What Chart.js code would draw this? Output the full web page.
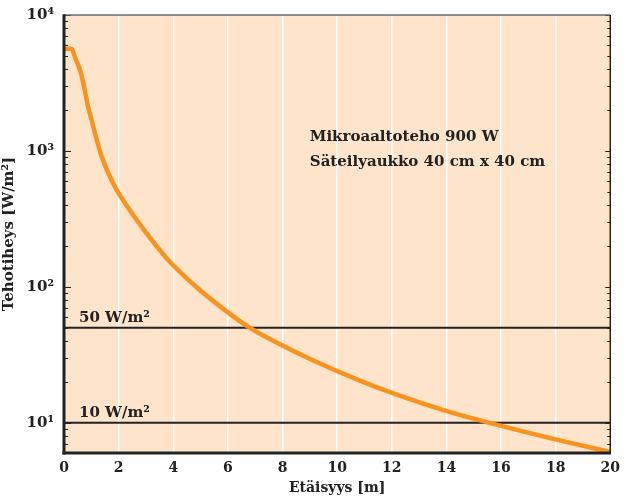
<!DOCTYPE html>
<html>
<head>
<meta charset="utf-8">
<script src="https://cdn.jsdelivr.net/npm/chart.js@4"></script>
<style>
  html, body { margin: 0; padding: 0; background: #ffffff; }
  #wrap { width: 627px; height: 497px; position: relative; }
</style>
</head>
<body>
<div id="wrap"><canvas id="c" width="627" height="497"></canvas></div>
<script>
// Distance from antenna (m) and power density (W/m²)
const distance = [0, 0.28, 0.42, 0.61, 0.75, 0.87, 1.03, 1.19, 1.37, 1.61, 1.91, 2.30, 2.82, 3.79, 4.88, 6, 6.81, 8, 9.05, 10.74, 12.08, 14.07, 15.58, 18.07, 20];
const powerDensity = [5650, 5650, 4780, 3810, 2870, 2157, 1629, 1227, 923, 697, 525, 395, 281, 160, 98.6, 65, 50, 37, 29.2, 20.8, 16.4, 12.1, 10, 7.5, 6.1];

// Limit lines
const limitValues = [50, 10];
const limitLabels = ['50 W/m²', '10 W/m²'];

// Annotation text
const infoLines = ['Mikroaaltoteho 900 W', 'Säteilyaukko 40 cm x 40 cm'];

// Axis settings
const xTicks = [0, 2, 4, 6, 8, 10, 12, 14, 16, 18, 20];
const yMin = 6, yMax = 10000;
const yTickValues = [6, 7, 8, 9, 10, 20, 30, 40, 50, 60, 70, 80, 90, 100, 200, 300, 400, 500, 600, 700, 800, 900, 1000, 2000, 3000, 4000, 5000, 6000, 7000, 8000, 9000, 10000];
const supers = {1: '¹', 2: '²', 3: '³', 4: '⁴'};

const FONT = "'DejaVu Serif', serif";
const INK = '#222222';

const isPow10 = v => Math.abs(Math.log10(v) - Math.round(Math.log10(v))) < 1e-9;

const bgPlugin = {
  id: 'bg',
  beforeDraw(chart) {
    const {ctx, chartArea: a} = chart;
    ctx.save();
    ctx.fillStyle = '#FDE4CB';
    ctx.fillRect(a.left, a.top, a.right - a.left, a.bottom - a.top);
    ctx.restore();
  },
  afterDraw(chart) {
    const {ctx, chartArea: a, scales} = chart;
    const y = scales.y, x = scales.x;
    ctx.save();
    // tick marks inside
    ctx.strokeStyle = INK;
    ctx.lineWidth = 1.2;
    yTickValues.forEach(v => {
      const py = Math.round(y.getPixelForValue(v)) + 0.5;
      const major = isPow10(v);
      const len = major ? 7 : 4;
      ctx.beginPath();
      ctx.moveTo(a.left, py); ctx.lineTo(a.left + len, py);
      ctx.moveTo(a.right, py); ctx.lineTo(a.right - (major ? 5 : 3), py);
      ctx.stroke();
    });
    // borders
    ctx.strokeStyle = '#6b6b6b';
    ctx.lineWidth = 1.5;
    ctx.beginPath(); ctx.moveTo(a.left, a.top); ctx.lineTo(a.right, a.top); ctx.stroke();
    ctx.strokeStyle = INK;
    ctx.lineWidth = 1.5;
    ctx.beginPath(); ctx.moveTo(a.right, a.top); ctx.lineTo(a.right, a.bottom); ctx.stroke();
    ctx.lineWidth = 3;
    ctx.beginPath(); ctx.moveTo(a.left, a.top - 0.75); ctx.lineTo(a.left, a.bottom + 1.5); ctx.stroke();
    ctx.beginPath(); ctx.moveTo(a.left - 1.5, a.bottom); ctx.lineTo(a.right + 0.75, a.bottom); ctx.stroke();
    // limit labels
    ctx.fillStyle = INK;
    ctx.font = "bold 15px " + FONT;
    ctx.textBaseline = 'alphabetic';
    ctx.textAlign = 'left';
    limitValues.forEach((v, i) => {
      ctx.fillText(limitLabels[i], x.getPixelForValue(0.55), y.getPixelForValue(v) - 6);
    });
    // info text
    ctx.font = "bold 15px " + FONT;
    ctx.fillText(infoLines[0], x.getPixelForValue(9.0), y.getPixelForValue(1180));
    ctx.fillText(infoLines[1], x.getPixelForValue(9.0), y.getPixelForValue(770));
    ctx.restore();
  }
};

new Chart(document.getElementById('c'), {
  type: 'line',
  data: {
    datasets: [
      {
        data: distance.map((d, i) => ({x: d, y: powerDensity[i]})),
        borderColor: '#F7931E',
        borderWidth: 4.5,
        pointRadius: 0,
        cubicInterpolationMode: 'monotone',
        fill: false,
        order: 1
      },
      ...limitValues.map(v => ({
        data: [{x: 0, y: v}, {x: 20, y: v}],
        borderColor: INK,
        borderWidth: 2,
        pointRadius: 0,
        fill: false,
        order: 2
      }))
    ]
  },
  options: {
    responsive: false,
    animation: false,
    devicePixelRatio: 1,
    layout: { padding: { left: 0, right: 12, top: 15, bottom: 0 } },
    plugins: { legend: { display: false }, tooltip: { enabled: false } },
    scales: {
      x: {
        type: 'linear',
        min: 0, max: 20,
        afterBuildTicks: s => { s.ticks = xTicks.map(v => ({value: v})); },
        afterFit: s => { s.height = 44; },
        border: { display: false },
        grid: {
          drawTicks: false,
          lineWidth: 1.5,
          color: c => (c.tick && (c.tick.value === 0 || c.tick.value === 20)) ? 'rgba(0,0,0,0)' : '#ffffff'
        },
        ticks: {
          padding: 7,
          color: INK,
          font: { family: FONT, size: 14, weight: 'bold' },
          maxRotation: 0,
          autoSkip: false
        },
        title: {
          display: true,
          text: 'Etäisyys [m]',
          color: INK,
          font: { family: FONT, size: 14, weight: 'bold' },
          padding: { top: 0, bottom: 0 }
        }
      },
      y: {
        type: 'logarithmic',
        min: yMin, max: yMax,
        afterBuildTicks: s => { s.ticks = yTickValues.map(v => ({value: v})); },
        afterFit: s => { s.width = 64; },
        border: { display: false },
        grid: { display: false },
        ticks: {
          autoSkip: false,
          padding: 2,
          color: INK,
          font: { family: FONT, size: 15, weight: 'bold' },
          callback: v => isPow10(v) ? '10' + supers[Math.round(Math.log10(v))] : ''
        },
        title: {
          display: true,
          text: 'Tehotiheys [W/m²]',
          color: INK,
          font: { family: FONT, size: 15, weight: 'bold' },
          padding: { top: 0, bottom: 6 }
        }
      }
    }
  },
  plugins: [bgPlugin]
});
</script>
</body>
</html>
